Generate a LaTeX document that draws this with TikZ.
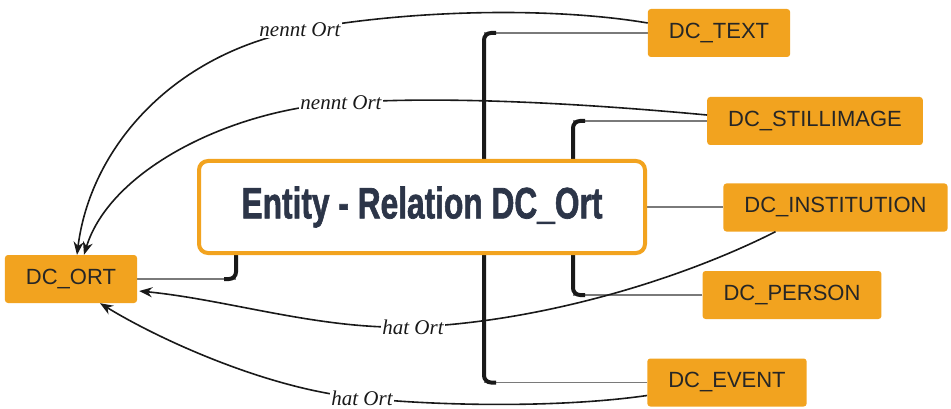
\documentclass[tikz,border=0pt]{standalone}
\usepackage{fontspec}
\setmainfont{Liberation Serif}
\setsansfont{Liberation Sans}
\newfontfamily\titlefont[FakeBold=1.6]{Liberation Sans}
\usetikzlibrary{
  arrows.meta,
  positioning,
  backgrounds,  % Predefined layer named "background"
  calc,         % Calculations $...$
}
\definecolor{myorange}{HTML}{F2A31F}
\definecolor{myslate}{HTML}{2C3548}
\definecolor{mygray}{HTML}{7A7A7A}
\def\mytwig{12}
\tikzset{
  font=\sffamily,
  >={Stealth[length=13pt,width=10pt]},
  my entity/.style={
    draw=none,
    fill=myorange,
    text=black!85,
    rounded corners=3pt,
    minimum height=48pt,
    inner xsep=21pt,
    font=\sffamily\fontsize{22}{22}\selectfont
  },
  my title/.style={
    draw=myorange,
    line width=4pt,
    fill=white,
    rounded corners=9pt,
    minimum width=446pt,
    minimum height=92pt,
    text=myslate
  },
  trunk/.style={
    line width=4pt,
    draw=black!90,
    rounded corners=7pt
  },
  twig/.style={
    line width=1.8pt,
    draw=mygray
  },
  relation/.style={
    ->,
    line width=1.6pt,
    draw=black!90
  },
  rel label/.style={
    fill=white,
    inner sep=1pt,
    text=black!90,
    font=\rmfamily\itshape\fontsize{21}{21}\selectfont
  }
}

\begin{document}
\begin{tikzpicture}[x=1pt,y=-1pt]
\useasboundingbox (0,0) rectangle (951,409);
\node[my title]  (title)  at (422,207)   {\scalebox{0.72}[1]{\titlefont\bfseries\fontsize{44}{44}\selectfont Entity - Relation DC\_Ort}};
\node[my entity] (text)   at (719,33)    {DC\_TEXT};
\node[my entity] (still)  at (815,121)   {DC\_STILLIMAGE};
\node[my entity] (inst)   at (835.5,207.5) {DC\_INSTITUTION};
\node[my entity] (person) at (792,295)   {DC\_PERSON};
\node[my entity] (event)  at (727,382.5) {DC\_EVENT};
\node[my entity] (ort)    at (71,279)    {DC\_ORT};
% trunks of the tree
\coordinate (tA) at (484,0);
\coordinate (tB) at (573,0);
\coordinate (tC) at (236,0);
\begin{scope}[on background layer]
\draw[twig] (text.west)   -- (text.west -| tA);
\draw[twig] (event.west)  -- (event.west -| tA);
\draw[twig] (still.west)  -- (still.west -| tB);
\draw[twig] (person.west) -- (person.west -| tB);
\draw[twig] (ort.east)    -- (ort.east -| tC);
\draw[twig] (title.east)  -- (title.east -| inst.west);
\draw[trunk] ($(text.west -| tA)+(\mytwig,0)$) -- (text.west -| tA) -- (event.west -| tA) -- +(\mytwig,0);
\draw[trunk] ($(still.west -| tB)+(\mytwig,0)$) -- (still.west -| tB) -- (person.west -| tB) -- +(\mytwig,0);
\draw[trunk] (title.south -| tC) -- (ort.east -| tC) -- +(-\mytwig,0);
\end{scope}
% relations
\draw[relation] ($(text.west)+(0,-10)$) .. controls (560,8) and (420,8) .. (300,30) node[rel label] {nennt Ort}
  .. controls (170,55) and (90,150) .. ($(ort.north)+(6,0)$);
\draw[relation] ($(still.west)+(0,-6)$) .. controls (600,105) and (450,95) .. (341,103) node[rel label] {nennt Ort}
  .. controls (230,110) and (110,170) .. ($(ort.north)+(13,0)$);
\draw[relation] ($(inst.south)+(-60,0)$) .. controls (680,280) and (540,322) .. (413,327) node[rel label] {hat Ort}
  .. controls (320,330) and (230,300) .. ($(ort.east)+(2,12)$);
\draw[relation] ($(event.west)+(0,13)$) .. controls (560,408) and (440,406) .. (362,398) node[rel label] {hat Ort}
  .. controls (270,390) and (160,340) .. ($(ort.south)+(29,0)$);
\end{tikzpicture}
\end{document}
